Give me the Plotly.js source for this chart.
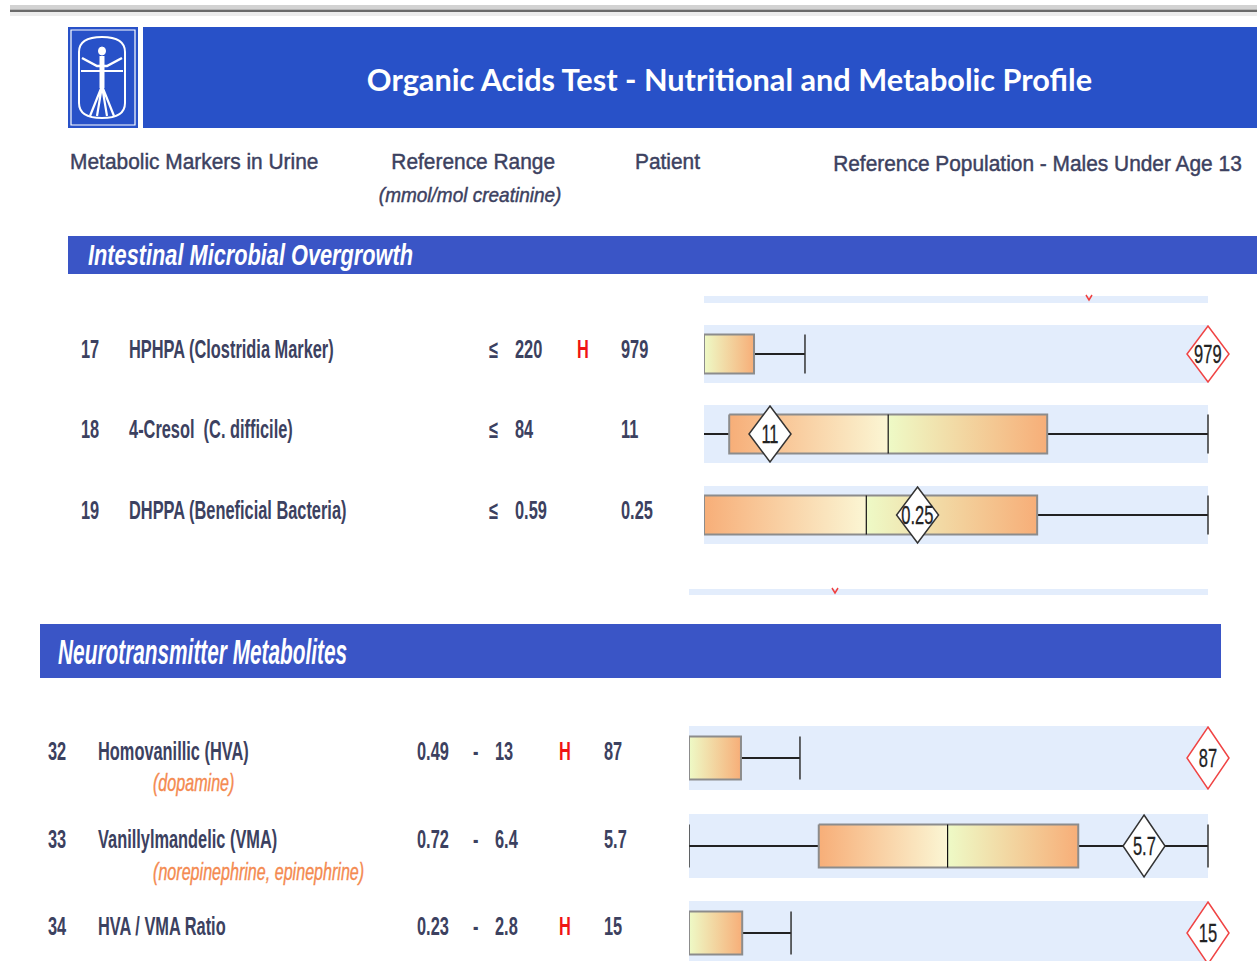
<!DOCTYPE html>
<html><head><meta charset="utf-8">
<script src="https://cdn.plot.ly/plotly-3.0.1.min.js"></script>
<style>html,body{margin:0;padding:0;background:#fff}#chart{width:1257px;height:961px}</style>
</head><body><div id="chart"></div>
<script>
// ---------- DATA ----------
// Intestinal Microbial Overgrowth
const intCodes   = ['17', '18', '19'];
const intNames   = ['HPHPA (Clostridia Marker)', '4-Cresol  (C. difficile)', 'DHPPA (Beneficial Bacteria)'];
const intUpper   = [220, 84, 0.59];
const intPatient = [979, 11, 0.25];
const intFlag    = ['H', '', ''];
// reference population distribution
const intQ1      = [0, 4.2, 0];
const intMedian  = [0, 30.7, 0.19];
const intQ3      = [109, 57.2, 0.39];
const intScaleMax= [1098, 84, 0.59];

// Neurotransmitter Metabolites
const neuCodes   = ['32', '33', '34'];
const neuNames   = ['Homovanillic (HVA)', 'Vanillylmandelic (VMA)', 'HVA / VMA Ratio'];
const neuSub     = ['(dopamine)', '(norepinephrine, epinephrine)', ''];
const neuLower   = [0.49, 0.72, 0.23];
const neuUpper   = [13, 6.4, 2.8];
const neuPatient = [87, 5.7, 15];
const neuFlag    = ['H', '', 'H'];
const neuQ1      = [0.49, 2.14, 0.23];
const neuMedian  = [0.49, 3.55, 0.23];
const neuQ3      = [6.35, 4.98, 1.57];
const neuScaleMax= [59.0, 6.4, 13.3];

// ---------- STYLE ----------
const W = 1257, H = 961;
const SANS = '"Liberation Sans", Arial, sans-serif';
const TXT = '#3c4160';
const RED = '#f01414';
const ORANGE = '#f7ae78', PALEY = '#fbf6d4', PALEG = '#eefac6';
const STRIP = '#e3edfc';
const BLUE = '#2851c8', BAND = '#3a55c6';

const traces = [], shapes = [], ann = [];
const squeeze = {};   // annotation index -> horizontal condensing factor
const heavy = {};     // annotation index -> extra stroke width
const layout = {
  width: W, height: H, margin: {l:0, r:0, t:0, b:0},
  paper_bgcolor: '#fff', plot_bgcolor: 'rgba(0,0,0,0)', showlegend: false,
  xaxis: {domain:[0,1], range:[0,W], visible:false, fixedrange:true},
  yaxis: {domain:[0,1], range:[H,0], visible:false, fixedrange:true},
  shapes, annotations: ann, hovermode: false
};

function rect(x0, y0, x1, y1, fill, extra) {
  shapes.push(Object.assign({type:'rect', xref:'x', yref:'y', x0, y0, x1, y1,
    fillcolor: fill, line:{width:0}, layer:'below'}, extra || {}));
}
function path(d, color, width, fill, layer) {
  shapes.push({type:'path', xref:'x', yref:'y', path:d, line:{color, width},
    fillcolor: fill || 'rgba(0,0,0,0)', layer: layer || 'above'});
}
function text(x, y, t, size, color, f, extra, fontExtra, stroke) {
  if (f && f !== 1) squeeze[ann.length] = f;
  if (stroke) heavy[ann.length] = stroke;
  ann.push(Object.assign({x, y, xref:'x', yref:'y', text:t, showarrow:false,
    xanchor:'left', yanchor:'middle',
    font: Object.assign({family:SANS, size, color}, fontExtra || {})}, extra || {}));
}
function line(ax, xs, ys, color, width) {
  traces.push({type:'scatter', mode:'lines', x:xs, y:ys, xaxis:ax, yaxis:'y',
    line:{color, width}, hoverinfo:'skip'});
}
function grad(ax, a, b, yc, hh, c0, c1) {
  traces.push({type:'scatter', mode:'lines', x:[a,b,b,a,a],
    y:[yc-hh,yc-hh,yc+hh,yc+hh,yc-hh], xaxis:ax, yaxis:'y', fill:'toself',
    fillcolor: c1, fillgradient:{type:'horizontal', colorscale:[[0,c0],[1,c1]]},
    line:{width:0}, hoverinfo:'skip'});
}

// ---------- PAGE FURNITURE ----------
rect(10, 5, W, 9, '#d2d2d2');
rect(10, 9.5, W, 12, '#6a6a6a');
rect(10, 12, W, 16, '#ececec');

// logo (Vitruvian figure)
rect(68, 27, 138, 128, BLUE);
rect(71, 30, 135, 125, 'rgba(0,0,0,0)', {line:{color:'#fff', width:1.2}});
path('M79,52 Q79,37 102,37 Q125,37 125,52 L125,103 Q125,118 102,118 Q79,118 79,103 Z', '#fff', 2);
shapes.push({type:'circle', xref:'x', yref:'y', x0:98.5, y0:47, x1:105.5, y1:55, fillcolor:'#fff', line:{color:'#fff', width:1}});
path('M82,58 L97,66 L107,66 L122,58', '#fff', 2.5);
path('M81,71 L123,71', '#fff', 1.8);
path('M102,56 L102,88', '#fff', 5);
path('M102,86 L90,116 M102,86 L114,116 M102,86 L97,116 M102,86 L107,116', '#fff', 2.2);

// title banner
rect(143, 27, W, 128, BLUE);
text(729, 79, 'Organic Acids Test - Nutritional and Metabolic Profile', 31, '#ffffff', 0.99,
  {xanchor:'center'}, {family:'Lato, "Open Sans", sans-serif', weight:700});

// column headers
const HS = 0.45;
text(68, 161, 'Metabolic Markers in Urine', 22, TXT, 0.95, {}, {}, HS);
text(473, 161, 'Reference Range', 22, TXT, 0.95, {xanchor:'center'}, {}, HS);
text(470, 195, '(mmol/mol creatinine)', 20, TXT, 0.95, {xanchor:'center'}, {style:'italic'}, HS);
text(633, 161, 'Patient', 22, TXT, 0.95, {}, {}, HS);
text(831, 163, 'Reference Population - Males Under Age 13', 22, TXT, 0.95, {}, {}, HS);

// section bands
rect(68, 236, W, 274, BAND);
text(86, 255, 'Intestinal Microbial Overgrowth', 29, '#ffffff', 0.75, {}, {weight:700, style:'italic'});
rect(40, 624, 1221, 678, BAND);
text(56, 651, 'Neurotransmitter Metabolites', 35, '#ffffff', 0.595, {}, {weight:700, style:'italic'});

// fragments of neighbouring rows
rect(704, 296, 1208, 303, STRIP);
path('M1086,295 L1089,300 L1092,295', '#f04040', 1.5);
rect(689, 589, 1208, 595, STRIP);
path('M832,588 L835,593 L838,588', '#f04040', 1.5);

// ---------- ROWS ----------
function drawRow(axIdx, dom, lo, hi, yc, hh, sh, q1, med, q3, wLo, wHi, capLo, patient, flag) {
  const ax = 'x' + axIdx;
  // extend the axis to the page edge so that edge markers are not clipped
  const ext = lo + (hi - lo) * (W - dom[0]) / (dom[1] - dom[0]);
  layout['xaxis' + axIdx] = {domain:[dom[0]/W, 1], range:[lo, ext], anchor:'y',
    visible:false, fixedrange:true};
  rect(dom[0], yc - sh, dom[1], yc + sh, STRIP);
  if (q1 > wLo) {
    line(ax, [wLo, q1], [yc, yc], '#222', 2);
    if (capLo) line(ax, [wLo, wLo], [yc - hh, yc + hh], '#333', 1.5);
  }
  line(ax, [q3, wHi], [yc, yc], '#222', 2);
  line(ax, [wHi, wHi], [yc - hh, yc + hh], '#333', 1.5);
  if (med > q1) grad(ax, q1, med, yc, hh, ORANGE, PALEY);
  grad(ax, med, q3, yc, hh, PALEG, ORANGE);
  line(ax, [q1, q3, q3, q1, q1], [yc-hh, yc-hh, yc+hh, yc+hh, yc-hh], '#8c8c8c', 2);
  if (med > q1) line(ax, [med, med], [yc - hh, yc + hh], '#111', 1.2);
  const pos = flag === 'H' ? hi : patient;
  const dh = sh - 1;
  shapes.push({type:'path', xref:ax, yref:'y', xsizemode:'pixel', xanchor:pos,
    path:`M0,${yc-dh} L21,${yc} L0,${yc+dh} L-21,${yc} Z`,
    fillcolor:'#fff', line:{color: flag === 'H' ? '#f04444' : '#333', width:1.5}, layer:'above'});
  squeeze[ann.length] = 0.66;
  heavy[ann.length] = 0.3;
  ann.push({x:pos, y:yc, xref:ax, yref:'y', text:String(patient), showarrow:false,
    xanchor:'center', yanchor:'middle', font:{family:SANS, size:25, color:'#222'}});
}

const RF = 0.655;   // condensing of the row text
const RB = {weight:700};
const intY = [354, 434, 515];
intCodes.forEach((c, i) => {
  const ty = intY[i] - 5;
  text(79, ty, c, 25, TXT, RF, {}, RB);
  text(127, ty, intNames[i], 25, TXT, RF, {}, RB);
  text(487, ty, '≤', 25, TXT, RF, {}, RB);
  text(513, ty, String(intUpper[i]), 25, TXT, RF, {}, RB);
  if (intFlag[i]) text(575, ty, intFlag[i], 25, RED, RF, {}, RB);
  text(619, ty, String(intPatient[i]), 25, TXT, RF, {}, RB);
  drawRow(2 + i, [704, 1208], 0, intScaleMax[i], intY[i], 19.5, 29,
    intQ1[i], intMedian[i], intQ3[i], 0, intUpper[i], false, intPatient[i], intFlag[i]);
});

const neuY = [758, 846, 933];
const neuSubY = [783, 872, 0];
neuCodes.forEach((c, i) => {
  const ty = neuY[i] - 7;
  text(46, ty, c, 25, TXT, RF, {}, RB);
  text(96, ty, neuNames[i], 25, TXT, RF, {}, RB);
  if (neuSub[i]) text(151, neuSubY[i], neuSub[i], 23, '#f48a50', 0.7, {}, {style:'italic'}, 0.4);
  text(415, ty, String(neuLower[i]), 25, TXT, RF, {}, RB);
  text(471, ty, '-', 25, TXT, RF, {}, RB);
  text(493, ty, String(neuUpper[i]), 25, TXT, RF, {}, RB);
  if (neuFlag[i]) text(557, ty, neuFlag[i], 25, RED, RF, {}, RB);
  text(602, ty, String(neuPatient[i]), 25, TXT, RF, {}, RB);
  drawRow(5 + i, [689, 1208], neuLower[i], neuScaleMax[i], neuY[i], 21.5, 32,
    neuQ1[i], neuMedian[i], neuQ3[i], neuLower[i], neuUpper[i], true, neuPatient[i], neuFlag[i]);
});

Plotly.newPlot('chart', traces, layout, {staticPlot:true, displayModeBar:false}).then(gd => {
  gd.querySelectorAll('g.annotation').forEach(g => {
    const i = +g.getAttribute('data-index');
    const t = g.querySelector('text.annotation-text');
    if (!t) return;
    if (heavy[i]) {
      t.style.stroke = ann[i].font.color;
      t.style.strokeWidth = heavy[i] + 'px';
    }
    const f = squeeze[i];
    if (!f) return;
    const bb = t.getBBox();
    const ox = ann[i].xanchor === 'center' ? bb.x + bb.width / 2 : bb.x;
    const prev = t.getAttribute('transform') || '';
    t.setAttribute('transform', `${prev} translate(${ox},0) scale(${f},1) translate(${-ox},0)`);
  });
});
</script></body></html>
